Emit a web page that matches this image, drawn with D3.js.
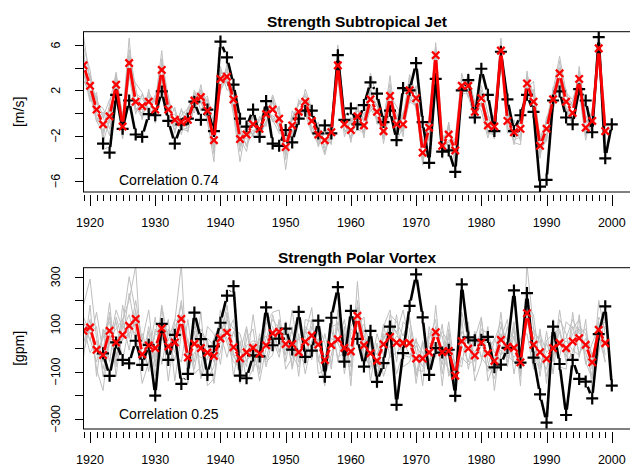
<!DOCTYPE html>
<html>
<head>
<meta charset="utf-8">
<script src="https://cdn.jsdelivr.net/npm/d3@7"></script>
<style>
body { margin: 0; background: #fff; }
text { font-family: "Liberation Sans", Arial, sans-serif; fill: #000; }
</style>
</head>
<body>
<div id="chart"></div>
<script>
// years 1919 .. 2000
var years = d3.range(1919, 2001);

// ---- Strength Subtropical Jet [m/s] ----
var jetObs = [null, null, null, -2.7, -3.5, 1.6, -1.4, 1.1, -1.9, -2.1,
  -0.1, -0.2, 1.9, -0.7, -2.7, -1.0, -0.5, 1.0, -0.6, 0.3,
  -1.6, 6.3, 4.9, 2.5, -0.5, -1.2, 0.3, -2.1, 1.05, -2.7,
  -2.9, -1.5, -2.6, -0.5, 0.2, 0.2, -1.8, -1.1, -1.8, 5.1,
  -0.6, 0.4, -1.0, 0.7, 2.7, 1.7, -0.8, 0.2, -2.4, 2.2,
  2.0, 4.4, -0.8, -4.4, 3.0, -3.4, -3.3, -5.2, 2.0, 2.9,
  -0.4, 3.9, 1.6, -1.6, 5.4, 1.2, -1.6, -0.2, 1.6, 0.1,
  -6.5, -5.9, 1.1, 1.9, -0.4, -1.0, 2.1, 1.1, -1.7, 6.7,
  -4.0, -1.0];
var jetMean = [4.2, 2.4, 0.3, -1.0, -0.3, 2.5, -1.2, 4.4, 1.0, 0.6,
  1.0, 0.3, 3.8, 0.3, -0.6, -0.8, -0.6, 1.1, 1.4, 0.2,
  -2.4, 3.0, 3.2, 1.2, -2.3, -1.9, -1.0, -1.4, -0.1, 0.3,
  -0.5, -3.0, -1.1, 0.1, 1.0, -0.7, -1.9, -2.4, -1.7, 4.2,
  -1.0, -1.5, -0.3, -1.1, 1.2, 0.1, -1.6, 1.5, -1.0, -1.0,
  2.0, 1.3, -3.5, -1.3, 5.1, -2.9, -1.9, -3.3, 2.4, 2.4,
  0.1, 1.3, -1.1, -1.2, 5.5, -0.7, -1.7, -1.4, 2.6, 1.0,
  -2.9, -1.4, 1.2, 3.5, 1.0, 0.0, 3.0, -1.3, -0.7, 5.7,
  -1.6];
var jetMemberA = [5.5, 1.2, 1.5, -2.2, 0.8, 3.6, -0.5, 5.6, 2.2, -0.6,
  2.1, -0.9, 4.8, 1.4, -1.8, 0.4, -1.7, 2.0, 0.2, 1.3,
  -3.6, 4.1, 2.0, 2.5, -1.2, -3.0, 0.1, -2.6, 1.0, -0.8,
  0.6, -4.1, 0.2, -1.0, 2.1, 0.4, -3.0, -1.3, -2.8, 5.3,
  0.1, -2.6, 0.8, -2.2, 2.3, -1.0, -0.5, 2.6, -2.1, 0.1,
  0.9, 2.4, -4.6, -0.2, 6.2, -1.8, -3.0, -2.2, 3.5, 1.3,
  1.2, 0.2, -2.2, -0.1, 6.6, -1.8, -0.6, -2.5, 3.7, -0.1,
  -1.8, -2.5, 2.3, 2.4, 2.1, -1.1, 4.1, -0.2, -1.8, 6.8,
  -0.5];
var jetMemberB = [3.1, 3.5, -0.8, 0.1, -1.4, 1.4, -2.3, 3.3, -0.1, 1.7,
  -0.1, 1.4, 2.7, -0.8, 0.5, -1.9, 0.5, 0.0, 2.5, -0.9,
  -1.3, 1.9, 4.3, 0.1, -3.4, -0.8, -2.1, -0.3, -1.2, 1.4,
  -1.6, -1.9, -2.2, 1.2, -0.1, -1.8, -0.8, -3.5, -0.6, 3.1,
  -2.1, -0.4, -1.4, 0.0, 0.1, 1.2, -2.7, 0.4, 0.1, -2.1,
  3.1, 0.2, -2.4, -2.4, 4.0, -4.0, -0.8, -4.4, 1.3, 3.5,
  -1.0, 2.4, 0.0, -2.3, 4.4, 0.4, -2.8, -0.3, 1.5, 2.1,
  -4.0, -0.3, 0.1, 4.6, -0.1, 1.1, 1.9, -2.4, 0.4, 4.6,
  -2.7];
var jetMemberC = [6.8, 2.9, 1.2, -0.3, -2.0, 3.4, -0.4, 6.6, 0.3, 0.0,
  1.8, 0.9, 5.5, -0.3, -1.5, -0.2, 0.4, 1.8, 1.0, -0.6,
  -4.3, 3.8, 2.6, 2.2, -1.6, -2.8, -1.8, -0.6, 0.5, -0.4,
  -1.3, -2.2, -0.4, 0.8, 1.7, 0.2, -2.6, -1.8, -1.0, 6.0,
  -0.3, -2.3, 0.5, -1.8, 2.0, -0.7, -0.9, 3.3, -1.7, -0.3,
  2.7, 2.0, -2.8, -0.6, 5.8, -2.3, -2.6, -2.6, 2.2, 3.0,
  0.7, 0.6, -0.4, -0.5, 6.3, 0.1, -1.0, -0.7, 3.3, 1.7,
  -2.2, -0.7, 1.9, 3.8, 1.7, 0.7, 3.7, -0.6, -1.3, 6.4,
  -0.9];
var jetMemberD = [2.9, 1.6, -0.7, -1.8, 0.5, 1.8, -1.9, 3.7, 1.7, 1.3,
  0.3, -0.4, 3.1, 1.0, 0.2, -1.5, -1.3, 0.4, 2.1, 0.9,
  -1.7, 2.3, 3.9, 0.5, -3.0, -1.2, -0.3, -2.1, -0.8, 1.0,
  0.2, -3.7, -1.8, -0.6, 0.3, -1.4, -1.2, -3.1, -2.4, 3.5,
  -1.7, -0.8, -1.0, -0.4, 0.5, 0.8, -2.3, 0.8, -0.3, -1.7,
  1.3, 0.6, -4.2, -2.0, 4.4, -3.6, -1.2, -4.0, 1.7, 1.7,
  -0.6, 2.0, -1.8, -1.9, 4.8, -1.4, -2.4, -2.1, 1.9, 0.3,
  -3.6, -2.1, 0.5, 2.8, 0.3, -0.7, 2.3, -2.0, 0.0, 5.0,
  -2.3];
var jetMemberE = [4.9, 3.1, 0.9, 0.4, -0.9, 3.2, -0.5, 5.1, 0.3, 0.7,
  1.4, 1.0, 4.4, 0.6, -0.9, -0.6, 0.1, 1.7, 1.9, 0.6,
  -2.0, 3.5, 3.6, 1.6, -2.8, -1.5, -0.4, -0.7, 0.4, 0.9,
  -0.8, -2.5, -0.5, 0.7, 1.5, -0.1, -1.4, -1.9, -1.2, 4.8,
  -0.4, -1.0, 0.2, -0.6, 1.8, 0.6, -1.1, 2.1, -0.5, -0.4,
  2.6, 1.8, -3.0, -0.8, 5.6, -2.4, -1.4, -2.8, 2.9, 2.8,
  0.6, 1.8, -0.6, -0.7, 6.0, -0.2, -1.2, -0.9, 3.1, 1.5,
  -2.4, -0.9, 1.7, 4.0, 1.5, 0.5, 3.5, -0.8, -0.2, 6.2,
  -1.1];
var jetMemberF = [3.5, 2.0, -0.3, -1.6, 0.2, 1.9, -1.8, 3.8, 0.4, 0.3,
  0.5, -0.3, 3.2, -0.4, -0.1, -1.2, -1.1, 0.6, 0.9, -0.3,
  -2.9, 2.5, 2.8, 0.7, -1.9, -2.3, -1.5, -2.0, -0.7, -0.2,
  -1.0, -3.4, -1.6, -0.5, 0.5, -1.2, -2.4, -2.8, -2.0, 3.7,
  -1.5, -2.0, -0.8, -1.6, 0.7, -0.4, -2.1, 1.0, -1.5, -1.5,
  1.5, 0.8, -4.0, -1.8, 4.6, -3.4, -2.4, -3.8, 1.9, 1.9,
  -0.4, 0.8, -1.6, -1.7, 5.0, -1.2, -2.2, -1.9, 2.1, 0.5,
  -3.4, -1.9, 0.7, 3.0, 0.5, -0.5, 2.5, -1.8, -1.2, 5.2,
  -2.1];
var jetMemberG = [5.8, 3.8, 0.0, -0.4, 1.2, 2.0, -1.0, 3.9, 2.6, 1.8,
  0.2, 1.6, 3.0, 1.5, -1.2, 0.2, -0.2, 1.4, 1.0, 1.5,
  -1.0, 2.0, 3.0, -0.2, -4.3, -1.0, -1.9, -1.0, -0.4, 1.6,
  -0.2, -5.0, -0.6, 0.9, 0.6, -0.2, -1.9, -3.7, -1.4, 4.3,
  -0.7, -0.8, 0.5, -0.8, 3.5, 1.4, -2.2, 1.5, 0.6, -0.5,
  3.4, 1.6, -2.6, -1.4, 5.3, -3.3, -1.0, -4.8, 2.1, 3.3,
  0.9, 0.7, -0.8, -2.2, 5.6, -1.0, -1.3, -0.2, 2.2, 2.8,
  -2.6, -0.8, 2.0, 5.0, 1.8, 1.2, 3.0, -1.7, 0.3, 5.9,
  -1.3];
var jetMemberH = [3.6, 1.0, 1.8, -2.6, -0.6, 2.9, -2.2, 4.8, 0.5, -0.4,
  1.6, -0.5, 4.3, -0.6, -2.2, -1.4, -1.6, 0.6, 1.8, -0.8,
  -3.4, 3.4, 2.6, 1.5, -2.2, -3.4, -0.2, -2.0, 0.6, -0.6,
  -1.8, -2.0, -2.4, -0.8, 1.2, -1.6, -2.8, -1.2, -2.4, 4.0,
  -1.0, -2.2, -1.4, -1.8, 0.4, -0.6, -0.8, 1.9, -2.5, -1.2,
  1.0, 0.6, -4.4, -2.0, 4.7, -2.0, -3.0, -3.4, 2.6, 1.5,
  -0.6, 1.0, -1.8, -0.2, 5.2, -0.4, -2.6, -2.8, 2.9, 0.0,
  -3.3, -2.4, 1.3, 3.2, 0.2, -1.0, 3.6, -0.9, -1.6, 5.6,
  -1.7];

// ---- Strength Polar Vortex [gpm] ----
var vortexObs = [null, null, null, -23, -118, 23, -51, -65, 30, -72,
  13, -201, 101, -51, 55, -152, -110, 149, 37, -114,
  6, 106, 220, 260, -117, -128, -32, -36, 171, 11,
  39, 81, -7, 152, -38, -12, 115, -122, 127, 256,
  -58, 156, 38, -79, 72, -143, -64, 90, -240, -22,
  177, 310, 129, -114, -1, -20, -8, -202, 268, 44,
  32, 34, 46, -82, -71, 0, 242, -62, 231, -41,
  -196, -315, 90, -68, -283, -51, -131, -142, -213, 58,
  175, -159];
var vortexMean = [72, 86, -8, -30, 72, 23, 55, 93, 122, -27,
  10, -1, 82, 6, 23, 122, -41, 17, -1, -20,
  -34, 40, 64, 3, -44, -19, 0, -24, 11, 62,
  68, 16, 16, -18, 26, 52, 14, -51, 12, 36,
  0, -15, 135, 11, -23, -54, 15, 46, 22, 20,
  20, -45, -45, -19, 66, -18, -13, -117, 28, -3,
  -32, 22, -23, -55, 34, 5, 0, -61, 146, 13,
  -18, -46, -1, 20, -1, 27, 41, 13, -61, 76,
  20];
var vortexMemberA = [180, 290, 40, -60, 150, -40, 120, 200, 345, -90,
  70, -120, 170, -30, 110, 350, -150, 90, 40, -130,
  -80, 160, 60, 120, -150, 40, 80, -110, 100, 150,
  160, -60, 90, -120, 120, 110, -40, -160, 90, 100,
  60, -120, 280, -70, 30, -170, 90, 160, -60, 110,
  80, -150, 20, -120, 180, -110, 60, -230, 120, -90,
  40, 130, -140, -60, 150, -80, 90, -160, 350, 80,
  -120, 70, -110, 120, 60, -70, 140, -60, -130, 200,
  60];
var vortexMemberB = [20, 120, -90, -180, 60, 110, -50, 90, 60, 40,
  -100, 80, 30, 120, -140, 60, 40, -110, -80, 90,
  60, -70, 150, -120, 30, -140, -90, 60, -80, 40,
  -40, 110, -90, 60, -110, 30, 100, 20, -90, 160,
  -110, 60, 90, 130, -140, 20, -120, -30, 140, -80,
  -60, 40, -160, 90, -40, 100, -120, -60, -80, 110,
  -140, -60, 90, -180, 40, 120, -110, 40, 60, -90,
  80, -150, 120, -80, -90, 150, -40, 120, -180, -20,
  140];
var vortexMemberC = [110, 30, 150, -20, 190, -80, 180, 40, 200, 30,
  160, -80, 120, -140, 60, 180, 20, -60, 150, -160,
  -130, 90, 40, -40, -10, -80, 140, -50, 40, 120,
  80, -30, 160, -40, 60, 170, -110, -90, 130, -60,
  90, -160, 200, -20, -90, 60, -30, 110, 60, 160,
  20, -90, -100, 40, 120, -160, 80, -170, 10, -60,
  70, -40, -80, 30, 110, -60, 50, -120, 200, -40,
  -90, 30, 60, -40, 110, 80, 120, -70, 20, 90,
  -60];
var vortexMemberD = [-40, 180, -120, 80, -60, 130, 30, 230, 70, -150,
  -60, 60, 40, 20, -50, 90, -80, 130, -120, 40,
  10, 30, 180, -20, -120, 80, -100, 40, -60, -30,
  120, -90, -40, 40, 50, -50, 80, -120, -30, 90,
  -60, 80, 60, 100, 10, -130, 60, 30, -110, -20,
  130, -110, -40, -90, -20, 70, 20, -120, 150, 30,
  -100, 120, -60, -130, -30, 90, -60, -40, 120, 60,
  40, -120, -30, 70, -60, -20, 90, 60, -90, 130,
  80];
var vortexMemberE = [90, -20, 30, -90, 40, 80, 120, -10, 160, -60,
  90, -40, 180, 30, 120, 100, -60, 40, 80, 20,
  -150, 60, -40, 70, -20, 90, -60, -90, 120, 90,
  -20, 110, -30, -80, 90, 60, 10, -40, 70, 20,
  120, -40, 110, -60, 30, -80, 40, 90, 70, -30,
  -40, 30, -20, -80, 90, -40, -90, -180, 30, 60,
  -60, 80, 60, -20, -10, -40, 110, -110, 150, -60,
  -40, -90, 60, 80, -40, 90, -20, 10, -60, 110,
  -30];
var vortexMemberF = [70, 40, -60, 60, 110, -30, 40, 60, 110, -40,
  -70, 70, 60, -50, 50, 200, -30, 70, -130, -40,
  0, 20, 80, -30, -90, 10, 30, 20, 50, 10,
  110, -10, 20, -20, -70, 90, 20, -60, 40, 20,
  -40, 90, 140, -80, 20, -30, 50, 0, 50, 30,
  -30, 10, -40, 60, 70, -20, 40, -70, 20, 40,
  50, -40, -20, 40, -30, 0, -40, -10, 100, 80,
  20, -40, -30, 0, 30, -10, -30, 40, -30, 50,
  -60];
var vortexMemberG = [130, 60, 90, -120, 20, 160, 80, 140, 30, 60,
  -30, 130, -70, 80, -20, -60, 120, -90, 60, 30,
  -60, -20, 120, 80, 60, -60, 20, -140, 0, 140,
  30, 60, -80, 110, -40, 120, -60, 60, -70, 110,
  40, -80, 170, 60, -60, -110, -40, 140, 110, 50,
  120, -20, -80, 20, 10, -70, 110, -100, 70, 20,
  -20, 40, -100, -60, 90, 30, 70, -80, 180, 140,
  -80, 20, -60, 160, -20, 60, 80, -20, -120, 60,
  30];
var vortexMemberH = [-20, 90, -30, 40, 130, -120, 100, 300, 150, -80,
  40, -60, 110, 60, 90, 140, -100, -20, -40, -50,
  40, 110, 20, -60, -80, -50, -30, 10, -50, 70,
  90, 30, 70, -60, 80, -10, 40, -110, 80, -40,
  -20, -30, 170, 30, -80, -60, 100, -40, -20, 10,
  20, -120, 30, -60, 60, 50, -110, -140, -40, -70,
  -50, 10, 40, -100, 60, -30, -60, -60, 130, -50,
  60, -20, 10, 30, 40, 120, 60, 80, -40, 90,
  110];

var jetTicks = [-6, -4, -2, 0, 2, 4, 6], jetLabels = [-6, -2, 2, 6];
var vortexTicks = [-300, -200, -100, 0, 100, 200, 300], vortexLabels = [-300, -100, 100, 300];
var decadeLabels = [1920, 1930, 1940, 1950, 1960, 1970, 1980, 1990, 2000];

var width = 630, height = 466;
var svg = d3.select("#chart").append("svg")
  .attr("width", width).attr("height", height);

var x = d3.scaleLinear().domain([1919, 2003.1]).range([83.5, 632]);

var panels = [
  {id: "jet", top: 31.7, bottom: 192, dom: [-6.97, 7.17], ticks: jetTicks, labels: jetLabels,
   title: "Strength Subtropical Jet", titleY: 27, ylab: "[m/s]", corr: "Correlation 0.74", corrY: 185,
   xlabY: 227, obs: jetObs, mean: jetMean,
   members: [jetMemberA, jetMemberB, jetMemberC, jetMemberD, jetMemberE, jetMemberF, jetMemberG, jetMemberH]},
  {id: "vortex", top: 267.7, bottom: 429, dom: [-342, 338], ticks: vortexTicks, labels: vortexLabels,
   title: "Strength Polar Vortex", titleY: 263, ylab: "[gpm]", corr: "Correlation 0.25", corrY: 419,
   xlabY: 464, obs: vortexObs, mean: vortexMean,
   members: [vortexMemberA, vortexMemberB, vortexMemberC, vortexMemberD, vortexMemberE, vortexMemberF, vortexMemberG, vortexMemberH]}
];

// R type="b": segments are cut short around each point
function gapSegments(pts, gap) {
  var segs = [];
  for (var i = 1; i < pts.length; i++) {
    var a = pts[i - 1], b = pts[i];
    if (!a || !b) continue;
    var dx = b[0] - a[0], dy = b[1] - a[1], d = Math.hypot(dx, dy);
    if (d <= 2 * gap) continue;
    var ux = dx / d, uy = dy / d;
    segs.push([a[0] + ux * gap, a[1] + uy * gap, b[0] - ux * gap, b[1] - uy * gap]);
  }
  return segs;
}

panels.forEach(function(p) {
  var y = d3.scaleLinear().domain(p.dom).range([p.bottom, p.top]);
  var g = svg.append("g");

  g.append("clipPath").attr("id", "clip-" + p.id)
    .append("rect").attr("x", 83.5).attr("y", p.top).attr("width", 560).attr("height", p.bottom - p.top);
  var plot = g.append("g").attr("clip-path", "url(#clip-" + p.id + ")");

  // ensemble members
  var line = d3.line().x(function(d, i) { return x(years[i]); }).y(function(d) { return y(d); });
  p.members.forEach(function(m) {
    plot.append("path").attr("d", line(m))
      .attr("fill", "none").attr("stroke", "#bebebe").attr("stroke-width", 1);
  });

  function typeB(vals, color, lw, gap) {
    var pts = vals.map(function(v, i) { return v == null ? null : [x(years[i]), y(v)]; });
    plot.selectAll(null).data(gapSegments(pts, gap)).enter().append("line")
      .attr("x1", function(s) { return s[0]; }).attr("y1", function(s) { return s[1]; })
      .attr("x2", function(s) { return s[2]; }).attr("y2", function(s) { return s[3]; })
      .attr("stroke", color).attr("stroke-width", lw);
    return pts.filter(function(q) { return q; });
  }

  // observations: black +
  var obsPts = typeB(p.obs, "#000", 2.6, 5.5);
  plot.selectAll(null).data(obsPts).enter().append("path")
    .attr("d", function(q) { return "M" + (q[0] - 6) + "," + q[1] + "h12M" + q[0] + "," + (q[1] - 6) + "v12"; })
    .attr("stroke", "#000").attr("stroke-width", 2.2).attr("fill", "none");

  // ensemble mean: red x
  var meanPts = typeB(p.mean, "#ff0000", 2.8, 5);
  plot.selectAll(null).data(meanPts).enter().append("path")
    .attr("d", function(q) { var r = 3.7; return "M" + (q[0] - r) + "," + (q[1] - r) + "l" + 2 * r + "," + 2 * r +
      "M" + (q[0] - r) + "," + (q[1] + r) + "l" + 2 * r + "," + (-2 * r); })
    .attr("stroke", "#ff0000").attr("stroke-width", 2.3).attr("fill", "none");

  // box (right side is beyond the picture)
  g.append("rect").attr("x", 83.5).attr("y", p.top).attr("width", 560).attr("height", p.bottom - p.top)
    .attr("fill", "none").attr("stroke", "#000").attr("stroke-width", 1);

  // y axis
  g.selectAll(null).data(p.ticks).enter().append("line")
    .attr("x1", 75).attr("x2", 83.5)
    .attr("y1", function(d) { return Math.round(y(d)) + 0.5; }).attr("y2", function(d) { return Math.round(y(d)) + 0.5; })
    .attr("stroke", "#000");
  g.selectAll(null).data(p.labels).enter().append("text")
    .attr("transform", function(d) { return "translate(60," + y(d) + ") rotate(-90)"; })
    .attr("text-anchor", "middle").attr("font-size", 12.5)
    .text(function(d) { return d < 0 ? "\u2212" + Math.abs(d) : d; });
  g.append("text")
    .attr("transform", "translate(24," + (p.top + p.bottom) / 2 + ") rotate(-90)")
    .attr("text-anchor", "middle").attr("font-size", 14).text(p.ylab);

  // x axis: yearly ticks, decades longer and labelled
  g.selectAll(null).data(years).enter().append("line")
    .attr("x1", function(d) { return Math.round(x(d)) + 0.5; }).attr("x2", function(d) { return Math.round(x(d)) + 0.5; })
    .attr("y1", p.bottom + 3)
    .attr("y2", function(d) { return p.bottom + (d % 10 === 0 ? 14 : 9); })
    .attr("stroke", "#000");
  g.selectAll(null).data(decadeLabels).enter().append("text")
    .attr("x", function(d) { return x(d); }).attr("y", p.xlabY)
    .attr("text-anchor", "middle").attr("font-size", 12.5).text(function(d) { return d; });

  g.append("text").attr("x", 357).attr("y", p.titleY)
    .attr("text-anchor", "middle").attr("font-size", 15.5).attr("font-weight", "bold").text(p.title);
  g.append("text").attr("x", 119).attr("y", p.corrY)
    .attr("font-size", 14).text(p.corr);
});
</script>
</body>
</html>
